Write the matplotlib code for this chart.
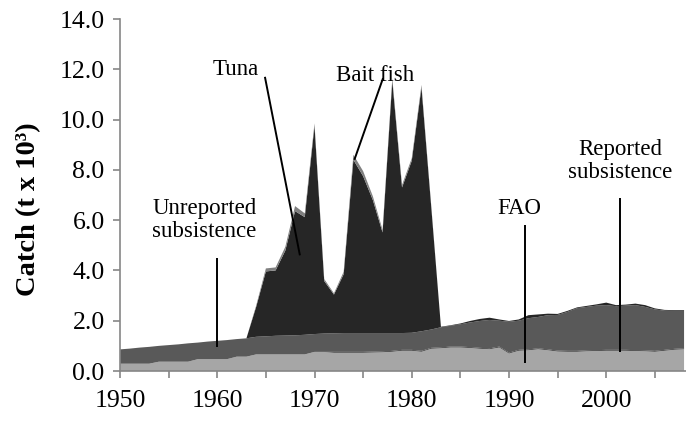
import numpy as np
import matplotlib
matplotlib.use("Agg")
import matplotlib.pyplot as plt

OUTPUT = "out.png"

# =========================
# DATA (t x 10^3), 1950-2008
# =========================
years = list(range(1950, 2009))

fao = [0.29, 0.29, 0.29, 0.29, 0.37, 0.37, 0.37, 0.37, 0.47, 0.47,
       0.47, 0.47, 0.57, 0.57, 0.66, 0.66, 0.66, 0.66, 0.66, 0.66,
       0.76, 0.76, 0.73, 0.73, 0.73, 0.73, 0.74, 0.75, 0.77, 0.81,
       0.81, 0.77, 0.89, 0.91, 0.94, 0.94, 0.92, 0.89, 0.87, 0.94,
       0.70, 0.81, 0.83, 0.87, 0.83, 0.78, 0.77, 0.77, 0.79, 0.80,
       0.81, 0.81, 0.81, 0.80, 0.79, 0.77, 0.81, 0.85, 0.87]

reported = [0.0] * 22 + [0.03] * 37

unreported = [0.57, 0.60, 0.64, 0.67, 0.63, 0.66, 0.69, 0.73, 0.66, 0.70,
              0.73, 0.76, 0.70, 0.73, 0.70, 0.72, 0.74, 0.75, 0.76, 0.78,
              0.71, 0.73, 0.74, 0.75, 0.75, 0.75, 0.74, 0.73, 0.71, 0.67,
              0.68, 0.78, 0.73, 0.80, 0.83, 0.89, 0.98, 1.07, 1.13, 1.03,
              1.23, 1.16, 1.24, 1.25, 1.36, 1.42, 1.55, 1.70, 1.73, 1.77,
              1.78, 1.74, 1.76, 1.79, 1.73, 1.65, 1.56, 1.51, 1.49]

tuna = [0.0] * 14 + [
    1.19, 2.58, 2.60, 3.38, 4.94, 4.68, 8.28, 2.09, 1.54, 2.34,
    6.89, 6.24, 5.29, 4.00, 10.03, 5.79, 6.84, 9.70, 4.90, 0.02,
    0.02, 0.03, 0.06, 0.08, 0.09, 0.05, 0.03, 0.05, 0.12, 0.10,
    0.06, 0.04, 0.04, 0.03, 0.04, 0.05, 0.10, 0.04, 0.04, 0.06,
    0.07, 0.04, 0.03, 0.03, 0.03]

bait = [0.0] * 14 + [
    0.05, 0.12, 0.12, 0.15, 0.20, 0.15, 0.10, 0.08, 0.05, 0.10,
    0.20, 0.20, 0.15, 0.10, 0.10, 0.10, 0.10, 0.10, 0.05] + [0.0] * 26

layer_colors = ["#a6a6a6", "#262626", "#595959", "#262626", "#808080"]

# label text, line start (x, y), line end (x, y)
notes = [
    ("Tuna", (1964.9, 11.7), (1968.5, 4.6)),
    ("Bait fish", (1977.05, 11.65), (1974.1, 8.4)),
    ("Unreported\nsubsistence", (1960.0, 4.5), (1960.0, 0.97)),
    ("FAO", (1991.6, 5.8), (1991.6, 0.32)),
    ("Reported\nsubsistence", (2001.4, 6.9), (2001.4, 0.77)),
]
note_text_pos = [(1961.9, 12.0), (1976.2, 11.75), (1958.7, 6.0),
                 (1991.1, 6.45), (2001.4, 8.35)]

# =========================
# PLOT
# =========================
plt.rcParams["font.family"] = ["Liberation Serif", "DejaVu Serif"]

fig = plt.figure(figsize=(6.86, 4.23), dpi=100)
ax = fig.add_axes([120 / 686, (423 - 371) / 423, 566 / 686, 352 / 423])

ax.stackplot(years, fao, reported, unreported, tuna, bait,
             colors=layer_colors, linewidth=0)

ax.set_xlim(1950, 2008.2)
ax.set_ylim(0, 14)

ax.set_xticks(range(1950, 2010, 5))
ax.set_xticklabels([str(y) if y % 10 == 0 else "" for y in range(1950, 2010, 5)])
ax.set_yticks(np.arange(0, 14.1, 2))
ax.set_yticklabels([f"{v:.1f}" for v in np.arange(0, 14.1, 2)])

for side in ["top", "right"]:
    ax.spines[side].set_visible(False)
for side in ["left", "bottom"]:
    ax.spines[side].set_color("#868686")
    ax.spines[side].set_linewidth(1.2)

ax.tick_params(axis="both", direction="out", length=5, width=1.2,
               color="#868686", labelsize=18.5, labelcolor="black")
ax.tick_params(axis="x", pad=9)
ax.tick_params(axis="y", pad=6)

ax.set_ylabel("Catch (t x 10³)", fontsize=20.5, fontweight="bold")
ax.yaxis.set_label_coords(-0.14, 0.46)

for (txt, p0, p1), tp in zip(notes, note_text_pos):
    ax.plot([p0[0], p1[0]], [p0[1], p1[1]], color="black", lw=1.4,
            solid_capstyle="butt")
    ax.text(tp[0], tp[1], txt, ha="center", va="center", fontsize=16.5,
            linespacing=1.1)

fig.savefig(OUTPUT, dpi=100)
print(f"saved to {OUTPUT}")
